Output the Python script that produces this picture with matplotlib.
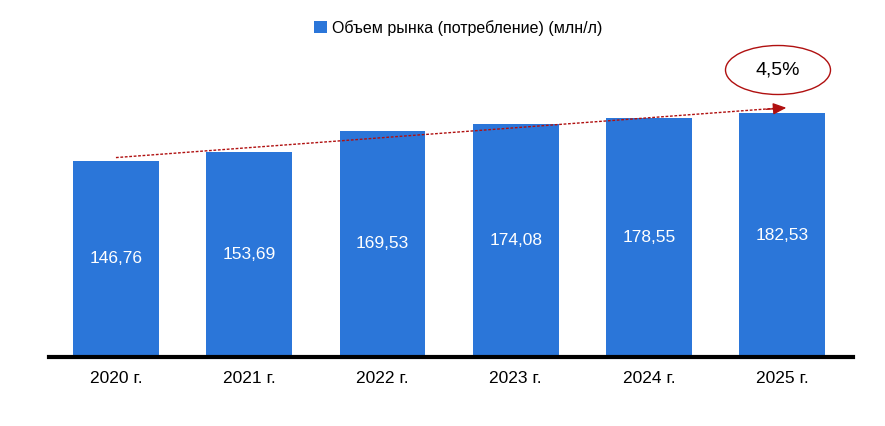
import matplotlib
matplotlib.use('Agg')

import matplotlib.pyplot as plt
from matplotlib.patches import Ellipse

# данные
years = ['2020 г.', '2021 г.', '2022 г.', '2023 г.', '2024 г.', '2025 г.']
values = [146.76, 153.69, 169.53, 174.08, 178.55, 182.53]
series_name = 'Объем рынка (потребление) (млн/л)'
growth_label = '4,5%'

bar_color = '#2b76d9'
trend_color = '#b01010'

plt.rcParams['font.family'] = ['Liberation Sans Narrow', 'Liberation Sans', 'DejaVu Sans']

fig = plt.figure(figsize=(8.85, 4.26), dpi=100)
ax = fig.add_axes([49.3 / 885, 69 / 426, 803.7 / 885, 297 / 426])

x = list(range(len(years)))
bars = ax.bar(x, values, width=0.645, color=bar_color, label=series_name, zorder=2)

for xi, v in zip(x, values):
    ax.text(xi, v / 2, f'{v:.2f}'.replace('.', ','), ha='center', va='center',
            color='white', fontsize=12.5)

ax.set_xlim(-0.5, len(years) - 0.47)
ax.set_ylim(0, 222.3)
ax.set_xticks(x)
ax.set_xticklabels(years, fontsize=12.5)
ax.tick_params(axis='x', length=0, pad=10)
ax.set_yticks([])

for s in ['top', 'right', 'left']:
    ax.spines[s].set_visible(False)
ax.spines['bottom'].set_linewidth(3)
ax.spines['bottom'].set_color('black')

# линия тренда
n = len(years) - 1
y0 = values[0] + 2.5
y1 = values[-1] + 4
x_end = n - 0.07
ax.plot([0, x_end], [y0, y0 + (y1 - y0) * x_end / n],
        color=trend_color, linestyle=(0, (2, 1.2)), linewidth=1, zorder=3)
ax.annotate('', xy=(n + 0.03, y1),
            xytext=(n - 0.12, y1 - (y1 - y0) * 0.15 / n),
            arrowprops=dict(arrowstyle='-|>,head_length=0.8,head_width=0.35',
                            color=trend_color, lw=1, shrinkA=0, shrinkB=0), zorder=3)

# эллипс с приростом
ell = Ellipse((778 / 885, 1 - 70 / 426), 105 / 885, 49 / 426, transform=fig.transFigure,
              facecolor='white', edgecolor=trend_color, linewidth=1)
fig.patches.append(ell)
fig.text(778 / 885, 1 - 70 / 426, growth_label, ha='center', va='center', fontsize=14)

fig.legend(handles=[bars], labels=[series_name], loc='center', bbox_to_anchor=(458 / 885, 1 - 28 / 426),
           frameon=False, fontsize=11.5, handlelength=0.8, handleheight=0.8, handletextpad=0.3)

fig.savefig('out.png', dpi=100)
